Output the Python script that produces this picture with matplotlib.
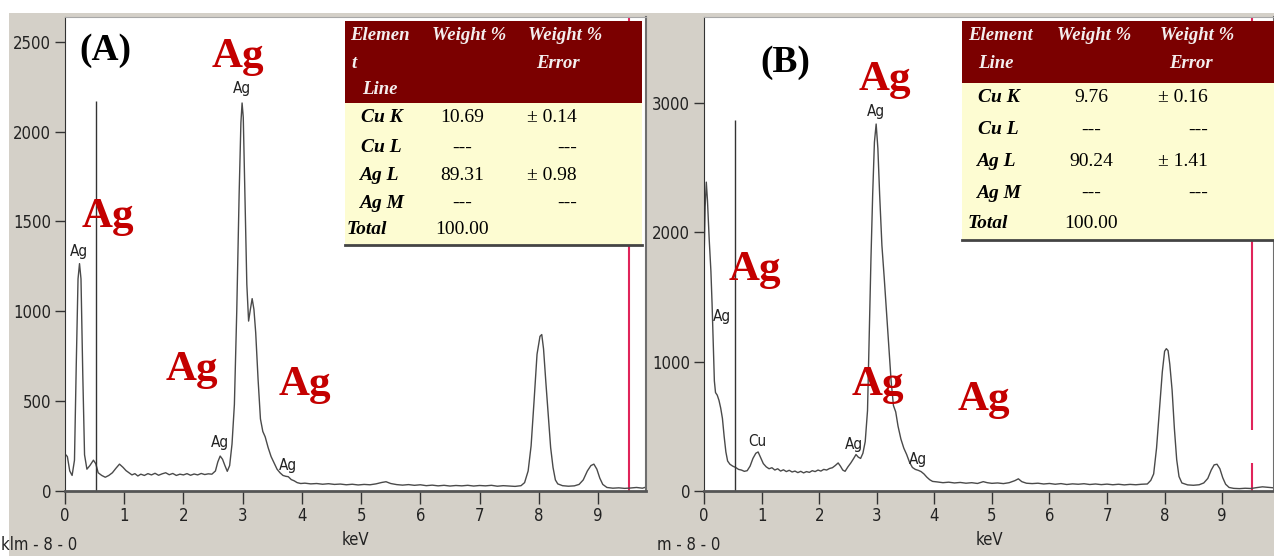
import matplotlib.pyplot as plt
from matplotlib.patches import Rectangle

W, H = 1274, 556

# ---- EDS spectrum (A) ----
kev_a = [0.00, 0.04, 0.08, 0.12, 0.16, 0.19, 0.22, 0.245, 0.27, 0.30, 0.33, 0.37, 0.42, 0.48,
         0.52, 0.56, 0.62, 0.68, 0.74, 0.80, 0.86, 0.92, 0.98, 1.03, 1.08, 1.13, 1.18, 1.23,
         1.28, 1.34, 1.40, 1.46, 1.52, 1.58, 1.64, 1.70, 1.76, 1.82, 1.88, 1.94, 2.00, 2.06,
         2.12, 2.18, 2.24, 2.30, 2.36, 2.42, 2.48, 2.54, 2.58, 2.62, 2.66, 2.70, 2.74, 2.78,
         2.82, 2.86, 2.90, 2.94, 2.97, 2.99, 3.01, 3.04, 3.07, 3.10, 3.13, 3.16, 3.19, 3.22,
         3.26, 3.30, 3.34, 3.38, 3.43, 3.48, 3.53, 3.58, 3.63, 3.68, 3.73, 3.77, 3.82, 3.87,
         3.92, 3.98, 4.05, 4.15, 4.25, 4.35, 4.45, 4.55, 4.65, 4.75, 4.85, 4.95, 5.05, 5.15,
         5.25, 5.35, 5.42, 5.50, 5.60, 5.70, 5.80, 5.90, 6.00, 6.10, 6.20, 6.30, 6.40, 6.50,
         6.60, 6.70, 6.80, 6.90, 7.00, 7.10, 7.20, 7.30, 7.40, 7.50, 7.60, 7.70, 7.76, 7.82,
         7.87, 7.92, 7.97, 8.02, 8.05, 8.08, 8.12, 8.16, 8.20, 8.24, 8.28, 8.32, 8.40, 8.50,
         8.60, 8.68, 8.75, 8.82, 8.88, 8.93, 8.98, 9.03, 9.08, 9.15, 9.25, 9.35, 9.45, 9.55,
         9.65, 9.75, 9.81]
cnt_a = [205, 190, 110, 85, 170, 700, 1180, 1265, 1180, 650, 200, 120, 140, 170,
         150, 100, 85, 75, 85, 100, 125, 148, 130, 112, 100, 88, 95, 82,
         92, 85, 95, 88, 97, 86, 94, 100, 89, 96, 85, 92, 88, 95,
         86, 93, 88, 96, 90, 94, 92, 110, 160, 193, 175, 140, 108, 140,
         260, 480, 1000, 1650, 2050, 2160, 2080, 1600, 1150, 945, 1010, 1070, 1010, 880,
         620, 400, 330, 300, 240, 190, 155, 120, 100, 85, 80, 78, 62, 55,
         45, 40, 42, 38, 40, 36, 39, 35, 37, 33, 36, 32, 35, 33,
         38, 46, 50, 40, 34, 31, 34, 30, 33, 28, 31, 27, 30, 26,
         29, 27, 30, 26, 29, 27, 30, 25, 28, 26, 24, 28, 45, 110,
         250, 500, 760, 860, 870, 790, 600, 420, 240, 130, 60, 38, 28, 25,
         27, 35, 60, 110, 140, 148, 120, 70, 35, 18, 14, 16, 13, 15,
         18, 14, 20]

# ---- EDS spectrum (B) ----
kev_b = [0.00, 0.02, 0.04, 0.06, 0.09, 0.12, 0.14, 0.16, 0.18, 0.20, 0.23, 0.26, 0.29, 0.32,
         0.35, 0.38, 0.41, 0.45, 0.50, 0.55, 0.60, 0.65, 0.70, 0.75, 0.80, 0.85, 0.90, 0.94,
         0.98, 1.03, 1.08, 1.13, 1.18, 1.23, 1.28, 1.33, 1.38, 1.43, 1.48, 1.53, 1.58, 1.63,
         1.68, 1.73, 1.78, 1.83, 1.88, 1.93, 1.98, 2.03, 2.08, 2.13, 2.18, 2.23, 2.28, 2.33,
         2.37, 2.41, 2.45, 2.50, 2.55, 2.60, 2.64, 2.68, 2.72, 2.76, 2.80, 2.84, 2.87, 2.90,
         2.93, 2.96, 2.99, 3.02, 3.05, 3.09, 3.13, 3.17, 3.21, 3.25, 3.29, 3.33, 3.37, 3.42,
         3.47, 3.52, 3.57, 3.62, 3.67, 3.72, 3.77, 3.82, 3.87, 3.92, 3.97, 4.05, 4.15, 4.25,
         4.35, 4.45, 4.55, 4.65, 4.75, 4.85, 4.92, 5.00, 5.10, 5.20, 5.30, 5.40, 5.46, 5.52,
         5.60, 5.70, 5.80, 5.90, 6.00, 6.10, 6.20, 6.30, 6.40, 6.50, 6.60, 6.70, 6.80, 6.90,
         7.00, 7.10, 7.20, 7.30, 7.40, 7.50, 7.60, 7.70, 7.76, 7.81, 7.86, 7.91, 7.96, 8.00,
         8.03, 8.06, 8.09, 8.13, 8.17, 8.21, 8.25, 8.30, 8.40, 8.50, 8.60, 8.68, 8.75, 8.81,
         8.86, 8.91, 8.96, 9.01, 9.06, 9.12, 9.20, 9.30, 9.40, 9.50, 9.60, 9.70, 9.80, 9.90]
cnt_b = [1750, 2200, 2390, 2250, 1950, 1700, 1450, 1150, 850, 760, 740, 700, 640, 560,
         420, 300, 230, 205, 190, 180, 165, 160, 150, 155, 190, 250, 290, 300,
         260, 210, 185, 170, 178, 160, 170, 152, 162, 148, 158, 145, 152, 140,
         150, 138, 148, 142, 155, 148, 160, 152, 165, 160, 172, 178, 195, 215,
         190, 160, 150, 185, 215, 250, 280, 260, 250, 290, 380, 620, 1200, 1800,
         2300, 2700, 2840, 2650, 2300, 1900, 1650, 1380, 1120, 850, 660, 610, 500, 400,
         330, 280, 220, 180, 165, 158, 148, 130, 105, 85, 72, 68, 62, 66,
         60, 64, 58, 62, 56, 70, 62, 57, 60, 55, 62, 78, 92, 70,
         58, 55, 58, 52, 56, 50, 55, 48, 53, 50, 54, 48, 52, 47,
         51, 46, 50, 45, 49, 46, 50, 52, 80, 130, 330, 620, 920, 1080,
         1100, 1085, 980, 780, 480, 240, 110, 60, 45, 42, 46, 60, 95, 160,
         200, 205, 170, 100, 50, 25, 18, 16, 19, 17, 24, 30, 26, 22]

# small peak labels (text, keV, counts)
peaks_a = [("Ag", 0.24, 1290), ("Ag", 2.99, 2200), ("Ag", 2.62, 225), ("Ag", 3.77, 100)]
peaks_b = [("Ag", 0.31, 1290), ("Cu", 0.92, 320), ("Ag", 2.60, 300),
           ("Ag", 2.99, 2880), ("Ag", 3.72, 185)]

# quantification tables
rows = ["Cu K", "Cu L", "Ag L", "Ag M", "Total"]
wt_a = ["10.69", "---", "89.31", "---", "100.00"]
err_a = ["± 0.14", "---", "± 0.98", "---", ""]
wt_b = ["9.76", "---", "90.24", "---", "100.00"]
err_b = ["± 0.16", "---", "± 1.41", "---", ""]

GRAY = "#d4d0c8"
DARKRED = "#7b0000"
CREAM = "#fdfcd2"
AGRED = "#c40000"
TICKFONT = dict(family="DejaVu Sans", stretch="condensed")
SERIF = "Liberation Serif"


def fx(x):
    return x / W


def fy(y):
    return 1 - y / H


fig = plt.figure(figsize=(W / 100, H / 100), dpi=100)
fig.patch.set_facecolor("white")
fig.add_artist(Rectangle((fx(9), 0), fx(W) - fx(9), fy(13), transform=fig.transFigure,
                         facecolor=GRAY, edgecolor="none", zorder=-5))


def spectrum_axes(left, right, xmax, ymax, yticks, kev, cnt, peaks, red_segments):
    ax = fig.add_axes([fx(left), fy(490.7), fx(right) - fx(left), fy(17) - fy(490.7)])
    ax.set_facecolor("white")
    ax.plot(kev, cnt, color="#4a4a4a", lw=1.0)
    ax.set_xlim(0, xmax)
    ax.set_ylim(0, ymax)
    ax.set_xticks(range(10))
    ax.set_yticks(yticks)
    ax.tick_params(axis="x", direction="out", length=9, width=1, color="#333333", pad=3)
    ax.tick_params(axis="y", direction="out", length=7, width=1, color="#333333", pad=3)
    for lab in ax.get_xticklabels() + ax.get_yticklabels():
        lab.set_fontsize(12)
        lab.set_fontstretch("condensed")
        lab.set_color("#222222")
    ax.spines["left"].set_color("#333333")
    ax.spines["bottom"].set_color("#555555")
    ax.spines["bottom"].set_linewidth(2)
    ax.spines["right"].set_color("#6e6e6e")
    ax.spines["right"].set_linewidth(1.5)
    ax.spines["top"].set_color("#a8a8a8")
    for y0, y1 in red_segments:
        ax.vlines(9.52, y0, y1, color="#e0245a", lw=1.5, zorder=1)
    for txt, xk, yc in peaks:
        ax.text(xk, yc, txt, ha="center", va="bottom", fontsize=11, color="#222222",
                **TICKFONT)
    ax.set_xlabel("keV", fontsize=12, color="#222222", labelpad=4, **TICKFONT)
    return ax


ax_a = spectrum_axes(65, 646, 9.81, 2639, [0, 500, 1000, 1500, 2000, 2500],
                     kev_a, cnt_a, peaks_a, [(0, 2639)])
ax_a.vlines(0.52, 0, 2170, color="#333333", lw=1)

ax_b = spectrum_axes(704, 1274, 9.90, 3669, [0, 1000, 2000, 3000],
                     kev_b, cnt_b, peaks_b, [(0, 215), (470, 3669)])
ax_b.vlines(0.53, 0, 2875, color="#333333", lw=1)

fig.text(fx(1), fy(545), "klm - 8 - 0", fontsize=12, color="#222222",
         ha="left", va="center", **TICKFONT)
fig.text(fx(657), fy(545), "m - 8 - 0", fontsize=12, color="#222222",
         ha="left", va="center", **TICKFONT)


def draw_table(x0, x1, y0, yh, y1, header, row_y, name_x, wt, wt_x, err, err_x):
    fig.add_artist(Rectangle((fx(x0), fy(y1)), fx(x1) - fx(x0), fy(yh) - fy(y1),
                             transform=fig.transFigure, facecolor=CREAM,
                             edgecolor="none", zorder=2))
    fig.add_artist(Rectangle((fx(x0), fy(yh)), fx(x1) - fx(x0), fy(y0) - fy(yh),
                             transform=fig.transFigure, facecolor=DARKRED,
                             edgecolor="none", zorder=2))
    fig.add_artist(plt.Line2D([fx(x0), fx(x1)], [fy(y1), fy(y1)], transform=fig.transFigure,
                              color="#444444", lw=2, zorder=2))
    for txt, x, y, ha in header:
        fig.text(fx(x), fy(y), txt, ha=ha, va="center", fontsize=13.5, color="#f4eeee",
                 family=SERIF, weight="bold", style="italic", zorder=3)
    for name, nx, y, w, e in zip(rows, name_x, row_y, wt, err):
        fig.text(fx(nx), fy(y), name, ha="left", va="center", fontsize=14, color="black",
                 family=SERIF, weight="bold", style="italic", zorder=3)
        fig.text(fx(wt_x), fy(y), w, ha="center", va="center", fontsize=14,
                 color="black", family=SERIF, zorder=3)
        fig.text(fx(err_x), fy(y), e, ha="right", va="center", fontsize=14,
                 color="black", family=SERIF, zorder=3)


draw_table(345, 642, 21, 103, 245,
           [("Elemen", 350, 36, "left"), ("t", 351, 63, "left"), ("Line", 362, 90, "left"),
            ("Weight %", 432, 36, "left"), ("Weight %", 528, 36, "left"),
            ("Error", 558, 63, "center")],
           [118, 148, 175, 203, 230], [361, 361, 359, 359, 347],
           wt_a, 462, err_a, 577)

draw_table(962, 1274, 21, 83, 240,
           [("Element", 968, 36, "left"), ("Line", 978, 63, "left"),
            ("Weight %", 1057, 36, "left"), ("Weight %", 1160, 36, "left"),
            ("Error", 1191, 63, "center")],
           [98, 130, 162, 193, 224], [978, 978, 976, 976, 968],
           wt_b, 1091, err_b, 1208)

# panel letters and big red element labels
for txt, x, y in [("(A)", 105, 51), ("(B)", 785, 62)]:
    fig.text(fx(x), fy(y), txt, ha="center", va="center", fontsize=27, color="black",
             family=SERIF, weight="bold", zorder=3)
for x, y in [(238, 57), (108, 217), (192, 370), (305, 385),
             (885, 80), (755, 270), (878, 385), (984, 400)]:
    fig.text(fx(x), fy(y), "Ag", ha="center", va="center", fontsize=31, color=AGRED,
             family=SERIF, weight="bold", zorder=3)

fig.savefig("out.png", dpi=100)
